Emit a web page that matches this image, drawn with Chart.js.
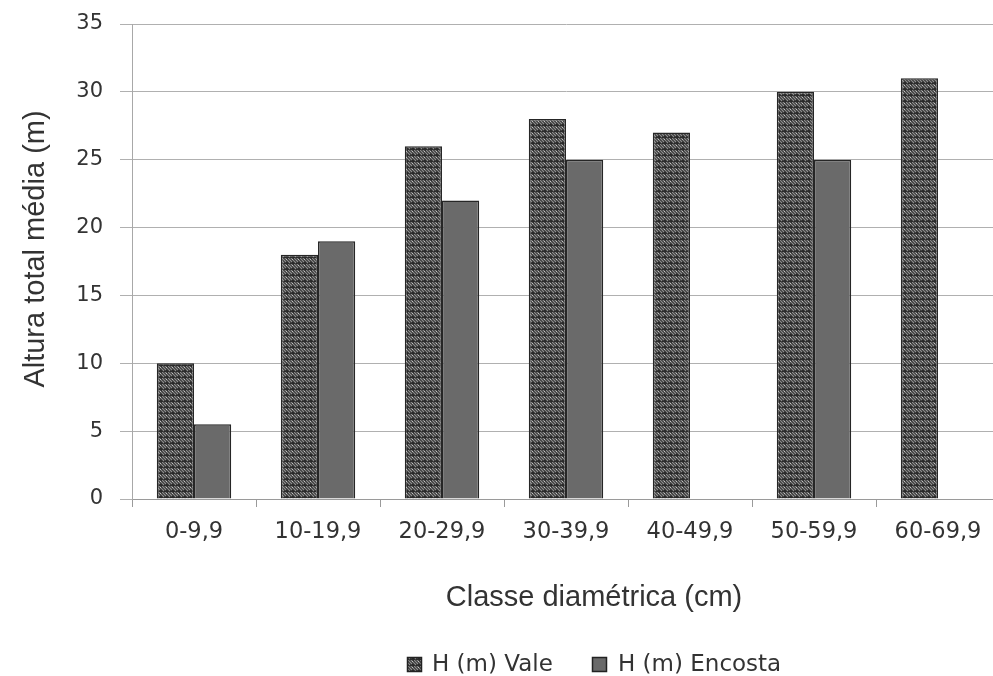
<!DOCTYPE html>
<html>
<head>
<meta charset="utf-8">
<script src="https://cdn.jsdelivr.net/npm/chart.js@4.4.1/dist/chart.umd.min.js"></script>
<style>
  html, body { margin: 0; padding: 0; background: #ffffff; overflow: hidden; }
  #wrap { position: absolute; left: 0; top: 0; width: 1004px; height: 676px; }
</style>
</head>
<body>
<div id="wrap"><canvas id="chart"></canvas></div>
<script>
// Diameter classes and mean total height per class
const classes = ['0-9,9', '10-19,9', '20-29,9', '30-39,9', '40-49,9', '50-59,9', '60-69,9'];
const valeHeights = [10, 18, 26, 28, 27, 30, 31];
const encostaHeights = [5.5, 19, 22, 25, null, 25, null];
const yTicks = [0, 5, 10, 15, 20, 25, 30, 35];
const seriesNames = ['H (m) Vale', 'H (m) Encosta'];
const xTitle = 'Classe diamétrica (cm)';
const yTitle = 'Altura total média (m)';

// woven diagonal fill for the "Vale" bars
function makeWeave() {
  const t = document.createElement('canvas');
  t.width = 6; t.height = 6;
  const g = t.getContext('2d');
  g.fillStyle = '#2b2b2b';
  g.fillRect(0, 0, 6, 6);
  g.strokeStyle = '#8f8f8f';
  g.lineWidth = 1.2;
  g.beginPath();
  g.moveTo(-1, -1); g.lineTo(4, 4);
  g.moveTo(2, -1); g.lineTo(7, 4);
  g.moveTo(-1, 2); g.lineTo(2, 5);
  g.stroke();
  g.fillStyle = '#c4c4c4';
  g.fillRect(4, 1, 1, 1);
  return g.createPattern(t, 'repeat');
}
const weave = makeWeave();

const textColor = '#333333';

// axis titles and legend drawn on top of the chart
const decorations = {
  id: 'decorations',
  afterDraw(chart) {
    const ctx = chart.ctx;
    ctx.save();
    ctx.fillStyle = textColor;
    ctx.font = '29px "Liberation Sans", Arial, sans-serif';
    ctx.textAlign = 'center';
    ctx.textBaseline = 'middle';
    ctx.fillText(xTitle, 594, 598);
    ctx.save();
    ctx.translate(36, 249);
    ctx.rotate(-Math.PI / 2);
    ctx.fillText(yTitle, 0, 0);
    ctx.restore();

    // legend
    const items = [
      { box: 407, text: 432, ds: chart.data.datasets[0] },
      { box: 592, text: 618, ds: chart.data.datasets[1] }
    ];
    ctx.font = '23px "DejaVu Sans", sans-serif';
    ctx.textAlign = 'left';
    items.forEach(it => {
      ctx.fillStyle = it.ds.backgroundColor;
      ctx.fillRect(it.box, 657, 15, 15);
      ctx.strokeStyle = '#222222';
      ctx.lineWidth = 1.5;
      ctx.strokeRect(it.box + 0.5, 657.5, 14, 14);
      ctx.fillStyle = textColor;
      ctx.fillText(it.ds.label, it.text, 665);
    });
    ctx.restore();
  }
};

new Chart(document.getElementById('chart'), {
  type: 'bar',
  data: {
    labels: classes,
    datasets: [
      {
        label: seriesNames[0],
        data: valeHeights,
        backgroundColor: weave,
        borderColor: '#262626',
        borderWidth: 1.5
      },
      {
        label: seriesNames[1],
        data: encostaHeights,
        backgroundColor: '#6a6a6a',
        borderColor: '#262626',
        borderWidth: 1.5
      }
    ]
  },
  options: {
    responsive: true,
    maintainAspectRatio: false,
    animation: false,
    devicePixelRatio: 1,
    layout: { padding: { top: 24, right: 4, left: 0, bottom: 0 } },
    datasets: { bar: { categoryPercentage: 0.6, barPercentage: 1.0 } },
    plugins: {
      legend: { display: false },
      tooltip: { enabled: false }
    },
    scales: {
      x: {
        offset: true,
        grid: { drawOnChartArea: false, drawTicks: true, tickLength: 8, color: '#9a9a9a', offset: true },
        border: { color: '#9a9a9a', width: 1 },
        ticks: {
          color: textColor,
          padding: 12,
          font: { family: '"DejaVu Sans", sans-serif', size: 22.5 }
        },
        afterFit(scale) { scale.height = 676 - 499; }
      },
      y: {
        min: 0,
        max: 35,
        afterBuildTicks(scale) { scale.ticks = yTicks.map(v => ({ value: v })); },
        grid: { color: '#b0b0b0', lineWidth: 1, drawTicks: true, tickLength: 12 },
        border: { color: '#a8a8a8', width: 1 },
        ticks: {
          color: textColor,
          padding: 17,
          font: { family: '"DejaVu Sans", sans-serif', size: 21, lineHeight: 0.5 }
        },
        afterFit(scale) { scale.width = 132; }
      }
    }
  },
  plugins: [decorations]
});
</script>
</body>
</html>
